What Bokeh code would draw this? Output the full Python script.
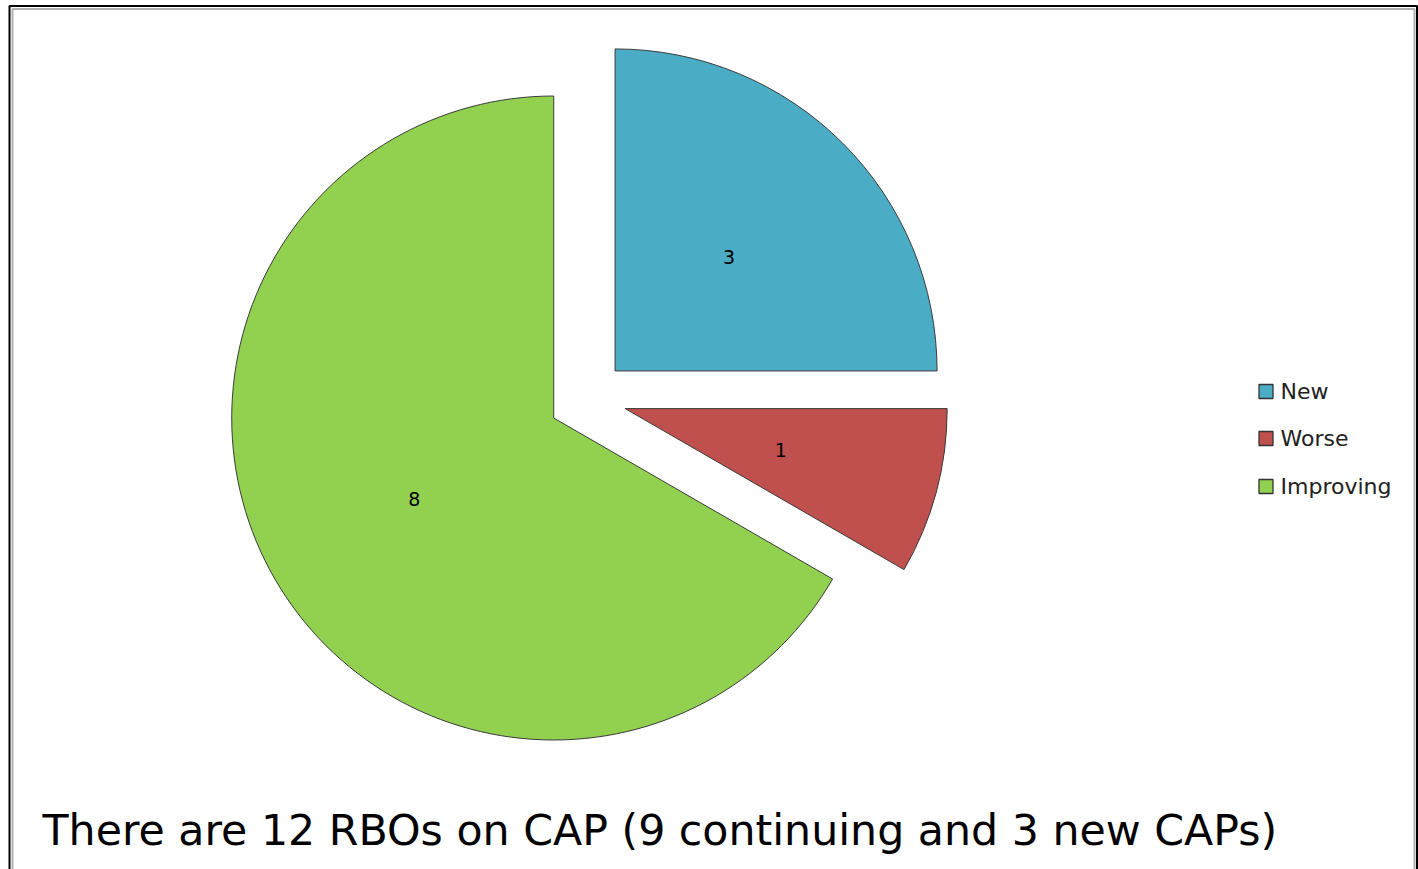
import math
from bokeh.plotting import figure
from bokeh.models import Range1d, ColumnDataSource
from bokeh.core.properties import value
from bokeh.embed import file_html
from bokeh.resources import INLINE

# ---- data ----
categories = ["New", "Worse", "Improving"]
counts = [3, 1, 8]
colors = ["#4BACC6", "#C0504D", "#92D050"]
caption = "There are 12 RBOs on CAP (9 continuing and 3 new CAPs)"

# ---- layout (pixel-like data space: x = screen x, y = 869 - screen y) ----
W, H = 1418, 869
p = figure(width=W, height=H, output_backend="svg", toolbar_location=None,
           x_range=Range1d(0, W), y_range=Range1d(0, H),
           min_border=0, outline_line_color=None)
p.axis.visible = False
p.grid.visible = False
p.background_fill_color = "white"
p.border_fill_color = "white"

cx, cy = 587, H - 398
R = 322
explode = 39

total = sum(counts)
starts, ends, xs, ys, lx, ly = [], [], [], [], [], []
cum = 0
for c in counts:
    a0 = math.pi / 2 - 2 * math.pi * cum / total
    cum += c
    a1 = math.pi / 2 - 2 * math.pi * cum / total
    mid = (a0 + a1) / 2
    ox = cx + explode * math.cos(mid)
    oy = cy + explode * math.sin(mid)
    starts.append(a0)
    ends.append(a1)
    xs.append(ox)
    ys.append(oy)
    lx.append(ox + 0.5 * R * math.cos(mid))
    ly.append(oy + 0.5 * R * math.sin(mid))

src = ColumnDataSource(dict(x=xs, y=ys, start=starts, end=ends, color=colors,
                            lx=lx, ly=ly, label=[str(c) for c in counts]))

p.wedge(x="x", y="y", radius=R, start_angle="start", end_angle="end",
        direction="clock", fill_color="color", line_color="#3a3a3a",
        line_width=1, source=src)

p.text(x="lx", y="ly", text="label", source=src, text_align="center",
       text_baseline="middle", text_font=value("DejaVu Sans"),
       text_font_size="19px", text_color="black")

# ---- legend ----
leg_x = 1265.5
leg_y = [H - 391, H - 438, H - 486]
lsrc = ColumnDataSource(dict(x=[leg_x] * 3, y=leg_y, color=colors,
                             tx=[1280] * 3, label=categories))
p.scatter(x="x", y="y", marker="square", size=14, fill_color="color",
          line_color="#333333", line_width=1.3, source=lsrc)
p.text(x="tx", y="y", text="label", source=lsrc, text_align="left",
       text_baseline="middle", text_font=value("DejaVu Sans"),
       text_font_size="22px", text_color="#222222")

# ---- caption ----
p.text(x=[42], y=[H - 829], text=[caption], text_align="left",
       text_baseline="middle", text_font=value("DejaVu Sans"),
       text_font_size="42.7px", text_color="black")

# ---- frame ----
p.line(x=[9, 9, 1416.5, 1416.5], y=[0, H - 5.5, H - 5.5, 0],
       line_color="black", line_width=2)
p.line(x=[12, 12, 1414, 1414], y=[0, H - 8.5, H - 8.5, 0],
       line_color="#b0b0b0", line_width=2)

open("out.html", "w").write(file_html(p, INLINE))
